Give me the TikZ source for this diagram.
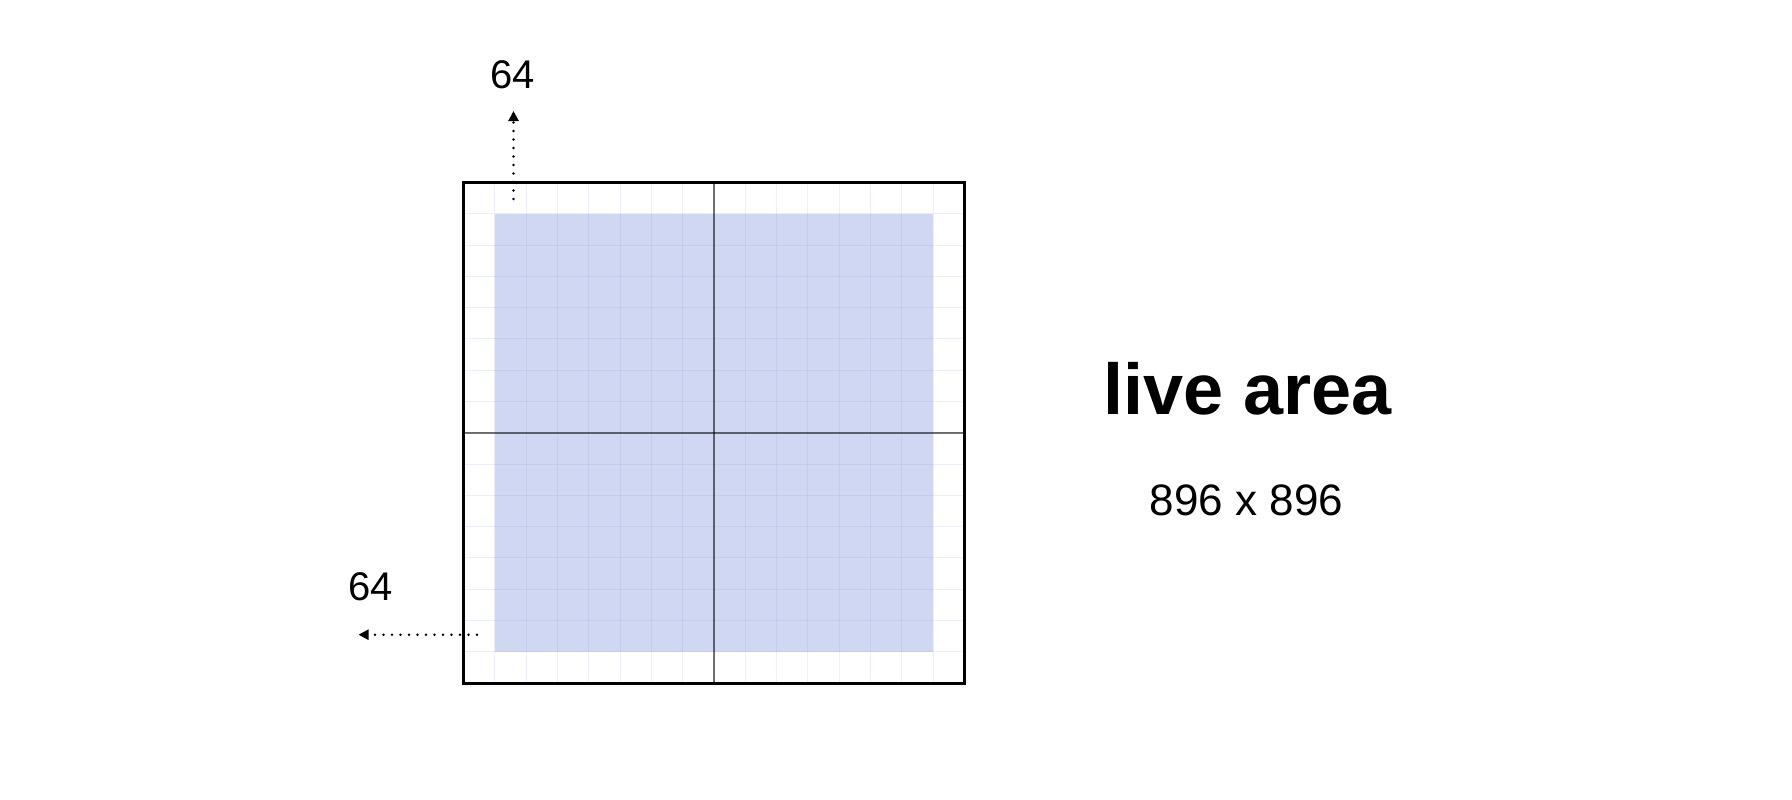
\documentclass[tikz,border=0pt]{standalone}
\usepackage{fontspec}
\setmainfont{Liberation Sans}
\usetikzlibrary{arrows.meta}
\definecolor{liveblue}{RGB}{208,215,242}
\definecolor{gridc}{RGB}{150,165,230}
\tikzset{
  gridline/.style={draw=gridc, draw opacity=0.18, line width=1pt},
  centerline/.style={draw=black, draw opacity=0.55, line width=1.5pt},
  frame/.style={draw=black, line width=3pt, outer sep=0pt, inner sep=0pt},
  dotarrow/.style={line width=2.8pt, line cap=round, dash pattern=on 0pt off 8.5pt,
    -{Triangle[length=10pt,width=10pt]}},
  numlabel/.style={font=\fontsize{40}{44}\selectfont, inner sep=0pt},
  bigtitle/.style={font=\bfseries\fontsize{72}{80}\selectfont, inner sep=0pt, anchor=base},
  subtitle/.style={font=\fontsize{44}{50}\selectfont, inner sep=0pt, anchor=base}
}
\begin{document}
\begin{tikzpicture}[x=1pt,y=-1pt]
\useasboundingbox (0,0) rectangle (1792,800);
% live area fill
\fill[liveblue] (494.8,213.8) rectangle (933.2,651.7);
% grid
\foreach \i in {1,...,15}{
  \draw[gridline] ({463.5+\i*31.3125},182.5) -- ({463.5+\i*31.3125},683);
  \draw[gridline] (463.5,{182.5+\i*31.28}) -- (964.5,{182.5+\i*31.28});
}
% center lines
\draw[centerline] (714,182.5) -- (714,683);
\draw[centerline] (463.5,433) -- (964.5,433);
% frame
\node[frame, minimum width=501pt, minimum height=500.5pt, anchor=north west] (canvas) at (463.5,182.5) {};
% arrows
\coordinate (topstart) at (513.5,199);
\coordinate (topend) at (513.5,111);
\coordinate (leftstart) at (477,634.7);
\coordinate (leftend) at (358.5,634.7);
\draw[dotarrow] (topstart) -- (topend);
\draw[dotarrow] (leftstart) -- (leftend);
% labels
\node[numlabel] (toplabel) at (513,74.5) {64};
\node[numlabel] (leftlabel) at (371,587) {64};
\node[bigtitle] (title) at (1248,414) {live area};
\node[subtitle] (size) at (1246.5,515) {896 x 896};
\end{tikzpicture}
\end{document}
